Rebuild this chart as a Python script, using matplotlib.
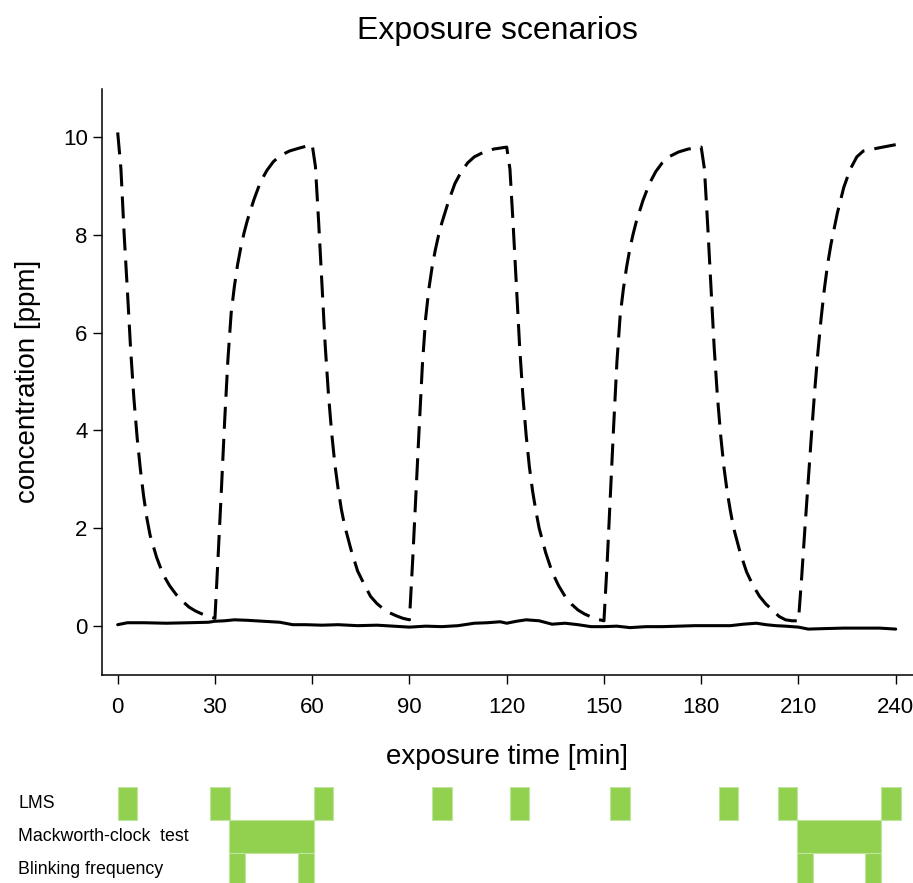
"""Exposure scenarios: concentration time course and task schedule."""
import matplotlib
matplotlib.use('Agg')
import matplotlib.pyplot as plt
import matplotlib.transforms as mtransforms


plt.rcParams['font.family'] = ['Liberation Sans', 'DejaVu Sans']

# Exposure scenario (dashed), minutes / ppm
exposure_time = [
    0, 1, 2, 3, 4, 5, 6, 7, 8, 9, 10, 12, 14, 16, 18, 20, 22, 24, 26, 28, 30,
    31, 32, 33, 34, 35, 36, 37, 38, 39, 40, 42, 44, 46, 48, 50, 53, 56, 60,
    61, 62, 63, 64, 65, 66, 67, 68, 69, 70, 72, 74, 76, 78, 80, 82, 84, 86, 88, 90,
    91, 92, 93, 94, 95, 96, 97, 98, 99, 100, 102, 104, 106, 108, 110, 113, 116, 120,
    121, 122, 123, 124, 125, 126, 127, 128, 129, 130, 132, 134, 136, 138, 140, 142,
    144, 146, 148, 150,
    151, 152, 153, 154, 155, 156, 157, 158, 159, 160, 162, 164, 166, 168, 170, 173,
    176, 180,
    181, 182, 183, 184, 185, 186, 187, 188, 189, 190, 192, 194, 196, 198, 200, 202,
    204, 206, 208, 210,
    211, 212, 213, 214, 215, 216, 217, 218, 219, 220, 222, 224, 226, 228, 230, 233,
    236, 240,
]
exposure_conc = [
    10.1, 9.35, 8.0, 6.85, 5.65, 4.65, 3.85, 3.2, 2.65, 2.2, 1.85, 1.4, 1.05, 0.82,
    0.64, 0.5, 0.38, 0.3, 0.24, 0.19, 0.15,
    1.45, 2.8, 4.2, 5.45, 6.4, 6.95, 7.4, 7.75, 8.05, 8.3, 8.72, 9.08, 9.32, 9.5,
    9.62, 9.72, 9.78, 9.85,
    9.4, 8.25, 7.0, 5.75, 4.75, 3.95, 3.3, 2.8, 2.38, 2.05, 1.55, 1.12, 0.85, 0.6,
    0.45, 0.34, 0.26, 0.2, 0.15, 0.12,
    1.35, 2.7, 4.05, 5.35, 6.3, 6.9, 7.35, 7.7, 8.0, 8.25, 8.68, 9.05, 9.3, 9.48,
    9.6, 9.7, 9.76, 9.8,
    9.35, 8.2, 6.95, 5.7, 4.7, 3.9, 3.25, 2.75, 2.35, 2.0, 1.5, 1.1, 0.82, 0.6,
    0.44, 0.32, 0.24, 0.18, 0.13, 0.1,
    1.3, 2.7, 4.1, 5.4, 6.35, 6.9, 7.35, 7.72, 8.02, 8.28, 8.7, 9.05, 9.3, 9.48,
    9.6, 9.7, 9.76, 9.8,
    9.35, 8.2, 6.95, 5.7, 4.7, 3.9, 3.25, 2.75, 2.35, 2.0, 1.5, 1.1, 0.82, 0.6,
    0.44, 0.32, 0.19, 0.12, 0.1, 0.1,
    1.0, 2.0, 2.95, 3.9, 4.8, 5.6, 6.3, 6.9, 7.4, 7.8, 8.45, 8.98, 9.35, 9.6,
    9.72, 9.76, 9.8, 9.85,
]

# Clean air scenario (solid)
control_time = [
    0, 3, 8, 15, 22, 28, 30, 33, 36, 40, 45, 50, 54, 58, 63, 68, 74, 80, 85, 90,
    95, 100, 105, 110, 114, 118, 120, 123, 126, 130, 134, 138, 142, 146, 150, 154,
    158, 163, 168, 173, 178, 184, 189, 193, 197, 200, 203, 206, 210, 213, 218, 224,
    230, 235, 240,
]
control_conc = [
    0.02, 0.06, 0.06, 0.05, 0.06, 0.07, 0.09, 0.1, 0.12, 0.11, 0.09, 0.07, 0.02,
    0.02, 0.01, 0.02, 0.0, 0.01, -0.01, -0.03, -0.01, -0.02, 0.0, 0.05, 0.06, 0.08,
    0.05, 0.09, 0.12, 0.1, 0.03, 0.05, 0.02, -0.02, -0.02, -0.01, -0.04, -0.02,
    -0.02, -0.01, 0.0, 0.0, 0.0, 0.03, 0.05, 0.02, 0.0, -0.01, -0.03, -0.07, -0.06,
    -0.05, -0.05, -0.05, -0.07,
]

xticks = [0, 30, 60, 90, 120, 150, 180, 210, 240]
yticks = [0, 2, 4, 6, 8, 10]

# Task schedule (start minute, duration minutes)
task_names = ['LMS', 'Mackworth-clock  test', 'Blinking frequency']
lms_start = [0, 28.5, 60.5, 97, 121, 152, 185.4, 203.6, 235.6]
lms_dur = 6
mackworth_start = [34.4, 209.5]
mackworth_dur = 26.1
blink_start = [34.4, 55.6, 209.5, 230.6]
blink_dur = 5

W, H = 913, 883
fig = plt.figure(figsize=(W / 100, H / 100), dpi=100)

# main axes, placed in pixels
x_lo, x_hi = -4.75, 246
px_per_min = 3.2417
ax_left, ax_bottom_px, ax_top_px = 102.3, 674.5, 88.5
ax_width = (x_hi - x_lo) * px_per_min
ax = fig.add_axes([ax_left / W, 1 - ax_bottom_px / H,
                   ax_width / W, (ax_bottom_px - ax_top_px) / H])

ax.plot(exposure_time, exposure_conc, color='black', lw=2.2,
        linestyle=(0, (7.2, 3.3)), solid_joinstyle='round')
ax.plot(control_time, control_conc, color='black', lw=2.2,
        solid_joinstyle='round', solid_capstyle='round')

ax.set_xlim(x_lo, x_hi)
ax.set_ylim(-1.0, 11.0)
ax.set_xticks(xticks)
ax.set_yticks(yticks)
ax.spines['top'].set_visible(False)
ax.spines['right'].set_visible(False)
for side in ('left', 'bottom'):
    ax.spines[side].set_linewidth(1.1)
ax.tick_params(axis='both', direction='out', length=6.5, width=1.0,
               labelsize=16)
ax.tick_params(axis='x', pad=10)
ax.tick_params(axis='y', pad=4)

ax.set_xlabel('exposure time [min]', fontsize=20, va='center')
ax.xaxis.set_label_coords(0.4975, (ax_bottom_px - 757) / (ax_bottom_px - ax_top_px))
ax.set_ylabel('concentration [ppm]', fontsize=20, va='center')
ax.yaxis.set_label_coords((28 - ax_left) / ax_width, 0.5)

fig.text(497 / W, 1 - 31 / H, 'Exposure scenarios', fontsize=23,
         ha='center', va='center')

# task strip below the plot, same time scale
strip_top, strip_bottom = 787.3, 885.4
ax2 = fig.add_axes([ax_left / W, 1 - strip_bottom / H,
                    ax_width / W, (strip_bottom - strip_top) / H])
ax2.set_xlim(x_lo, x_hi)
ax2.set_ylim(3, 0)
ax2.axis('off')

green = '#92d050'
edge = '#bfe49c'
rows = [(lms_start, lms_dur), (mackworth_start, mackworth_dur),
        (blink_start, blink_dur)]
for i, (starts, dur) in enumerate(rows):
    ax2.barh([i] * len(starts), [dur] * len(starts), left=starts, height=1,
             align='edge', color=green, edgecolor=edge, linewidth=0.8)

trans = mtransforms.blended_transform_factory(fig.transFigure, ax2.transData)
for i, name in enumerate(task_names):
    ax2.text(18 / W, i + 0.5, name, transform=trans, fontsize=12.8,
             ha='left', va='center')

fig.savefig('out.png', dpi=100)
